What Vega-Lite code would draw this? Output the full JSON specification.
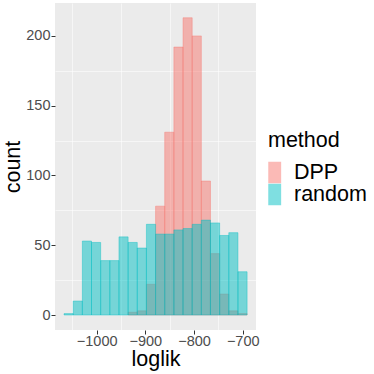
{
  "$schema": "https://vega.github.io/schema/vega-lite/v6.json",
  "autosize": {"type": "none"},
  "padding": {"left": 55, "top": 3, "right": 118, "bottom": 44},
  "width": 201,
  "height": 327,
  "background": "white",
  "config": {
    "font": "Liberation Sans",
    "view": {"fill": "#EBEBEB", "stroke": null},
    "axis": {
      "domain": false,
      "gridColor": "white",
      "gridWidth": 1.1,
      "tickColor": "#333333",
      "tickSize": 4,
      "tickWidth": 1,
      "labelColor": "#4D4D4D",
      "labelFontSize": 14.5,
      "labelFont": "Liberation Sans",
      "titleFont": "Liberation Sans",
      "titleFontSize": 21.5,
      "titleFontWeight": "normal",
      "titleColor": "black"
    },
    "legend": {
      "titleFont": "Liberation Sans",
      "labelFont": "Liberation Sans"
    }
  },
  "data": {
    "values": [
      {"method": "DPP", "lo": -935.4, "hi": -916.6, "count": 2},
      {"method": "DPP", "lo": -916.6, "hi": -897.8, "count": 3},
      {"method": "DPP", "lo": -897.8, "hi": -879.0, "count": 22},
      {"method": "DPP", "lo": -879.0, "hi": -860.2, "count": 78},
      {"method": "DPP", "lo": -860.2, "hi": -841.4, "count": 131},
      {"method": "DPP", "lo": -841.4, "hi": -822.6, "count": 192},
      {"method": "DPP", "lo": -822.6, "hi": -803.8, "count": 213},
      {"method": "DPP", "lo": -803.8, "hi": -785.0, "count": 200},
      {"method": "DPP", "lo": -785.0, "hi": -766.2, "count": 96},
      {"method": "DPP", "lo": -766.2, "hi": -747.4, "count": 44},
      {"method": "DPP", "lo": -747.4, "hi": -728.6, "count": 15},
      {"method": "DPP", "lo": -728.6, "hi": -709.8, "count": 3},
      {"method": "DPP", "lo": -709.8, "hi": -691.0, "count": 1},
      {"method": "random", "lo": -1067.0, "hi": -1048.2, "count": 1},
      {"method": "random", "lo": -1048.2, "hi": -1029.4, "count": 10},
      {"method": "random", "lo": -1029.4, "hi": -1010.6, "count": 53},
      {"method": "random", "lo": -1010.6, "hi": -991.8, "count": 52},
      {"method": "random", "lo": -991.8, "hi": -973.0, "count": 39},
      {"method": "random", "lo": -973.0, "hi": -954.2, "count": 39},
      {"method": "random", "lo": -954.2, "hi": -935.4, "count": 56},
      {"method": "random", "lo": -935.4, "hi": -916.6, "count": 52},
      {"method": "random", "lo": -916.6, "hi": -897.8, "count": 48},
      {"method": "random", "lo": -897.8, "hi": -879.0, "count": 65},
      {"method": "random", "lo": -879.0, "hi": -860.2, "count": 58},
      {"method": "random", "lo": -860.2, "hi": -841.4, "count": 58},
      {"method": "random", "lo": -841.4, "hi": -822.6, "count": 61},
      {"method": "random", "lo": -822.6, "hi": -803.8, "count": 62},
      {"method": "random", "lo": -803.8, "hi": -785.0, "count": 65},
      {"method": "random", "lo": -785.0, "hi": -766.2, "count": 68},
      {"method": "random", "lo": -766.2, "hi": -747.4, "count": 66},
      {"method": "random", "lo": -747.4, "hi": -728.6, "count": 57},
      {"method": "random", "lo": -728.6, "hi": -709.8, "count": 59},
      {"method": "random", "lo": -709.8, "hi": -691.0, "count": 31}
    ]
  },
  "resolve": {"axis": {"x": "independent", "y": "independent"}},
  "layer": [
    {
      "mark": {"type": "bar", "opacity": 0},
      "encoding": {
        "x": {
          "field": "lo", "type": "quantitative",
          "scale": {"domain": [-1085.6, -672.7], "nice": false, "zero": false},
          "axis": {"orient": "bottom", "values": [-1050, -950, -850, -750], "labels": false, "ticks": false, "title": null, "gridWidth": 0.55}
        },
        "x2": {"field": "hi"},
        "y": {
          "field": "count", "type": "quantitative", "stack": null,
          "scale": {"domain": [-10.75, 223.6], "nice": false, "zero": false},
          "axis": {"orient": "left", "values": [25, 75, 125, 175, 225], "labels": false, "ticks": false, "title": null, "gridWidth": 0.55}
        },
        "y2": {"datum": 0}
      }
    },
    {
      "mark": {"type": "bar", "fillOpacity": 0.5, "strokeOpacity": 0.5, "strokeWidth": 0.8},
      "encoding": {
        "x": {
          "field": "lo", "type": "quantitative",
          "scale": {"domain": [-1085.6, -672.7], "nice": false, "zero": false},
          "axis": {"orient": "bottom", "values": [-1000, -900, -800, -700], "labelExpr": "replace(format(datum.value, 'd'), '-', '\u2212')", "title": "loglik", "labelPadding": 0, "titlePadding": 1, "labelFlush": false}
        },
        "x2": {"field": "hi"},
        "y": {
          "field": "count", "type": "quantitative", "stack": null,
          "scale": {"domain": [-10.75, 223.6], "nice": false, "zero": false},
          "axis": {"orient": "left", "values": [0, 50, 100, 150, 200], "title": "count", "labelPadding": 1, "titlePadding": 1, "labelFlush": false}
        },
        "y2": {"datum": 0},
        "color": {
          "field": "method", "type": "nominal",
          "scale": {"domain": ["DPP", "random"], "range": ["#F8766D", "#00BFC4"]},
          "legend": {
            "orient": "none",
            "legendX": 213,
            "legendY": 127,
            "padding": 0,
            "title": "method",
            "titleFontSize": 21.5,
            "titleFontWeight": "normal",
            "titleColor": "black",
            "titlePadding": 10,
            "labelFontSize": 21.5,
            "labelColor": "black",
            "labelOffset": 4,
            "rowPadding": 0,
            "symbolType": "M-1,-1H0.2V1H-1Z",
            "symbolSize": 462,
            "symbolOpacity": 0.5,
            "symbolStrokeWidth": 0
          }
        },
        "stroke": {"field": "method", "type": "nominal", "scale": {"domain": ["DPP", "random"], "range": ["#F8766D", "#00BFC4"]}, "legend": null}
      }
    }
  ]
}
